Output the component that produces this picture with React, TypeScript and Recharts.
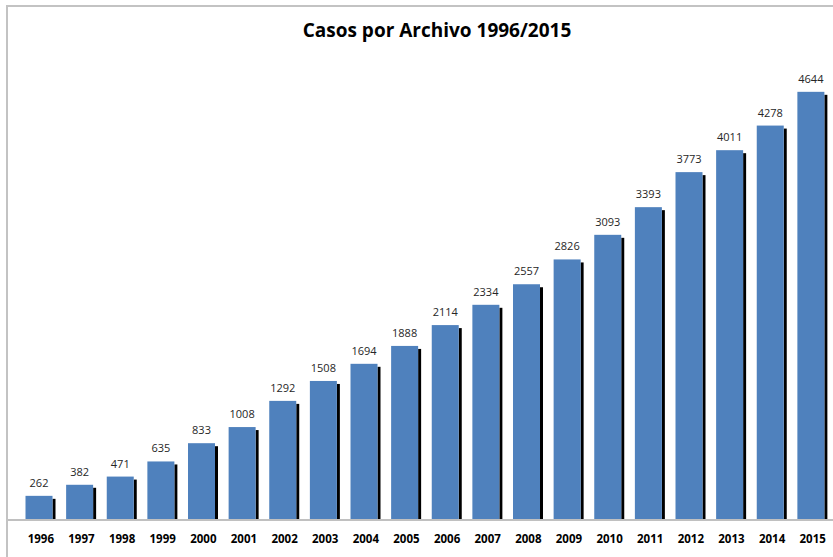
import { Bar, BarChart, LabelList, XAxis, YAxis } from "recharts";

const years = [
  "1996", "1997", "1998", "1999", "2000", "2001", "2002", "2003", "2004", "2005",
  "2006", "2007", "2008", "2009", "2010", "2011", "2012", "2013", "2014", "2015",
];
const casos = [
  262, 382, 471, 635, 833, 1008, 1292, 1508, 1694, 1888,
  2114, 2334, 2557, 2826, 3093, 3393, 3773, 4011, 4278, 4644,
];

const FONT = "'Open Sans', 'Noto Sans', sans-serif";
const SHADOW = 3;

function ShadowBar(props: any) {
  const { x, y, width, height, fill } = props;
  if (!height || height <= 0) return null;
  const w = width - SHADOW;
  return (
    <g>
      <rect x={x + w} y={y + 3} width={SHADOW} height={height - 3} fill="#000" />
      <rect x={x} y={y} width={w} height={height} fill={fill} />
    </g>
  );
}

function ValueLabel(props: any) {
  const { x, y, width, value } = props;
  return (
    <text
      x={x + (width - SHADOW) / 2}
      y={y - 9}
      textAnchor="middle"
      fontFamily={FONT}
      fontSize={11}
      fill="#262626"
    >
      {value}
    </text>
  );
}

export default function App() {
  const rows = years.map((year, i) => ({ year, casos: casos[i] }));
  return (
    <div style={{ position: "absolute", left: 0, top: 0, width: 833, height: 557, background: "#fff" }}>
      <div
        style={{
          position: "absolute",
          left: 6,
          top: 5,
          width: 827,
          height: 552,
          borderTop: "2px solid #c3c3c3",
          borderLeft: "2px solid #c3c3c3",
          boxSizing: "border-box",
        }}
      />
      <div
        style={{
          position: "absolute",
          left: 0,
          top: 17,
          width: 874,
          textAlign: "center",
          fontFamily: FONT,
          fontWeight: 700,
          fontSize: 19,
          color: "#000",
        }}
      >
        Casos por Archivo 1996/2015
      </div>
      <BarChart
        width={833}
        height={557}
        data={rows}
        margin={{ top: 59, right: 0, bottom: 7, left: 8 }}
        barCategoryGap={0}
        style={{ position: "absolute", left: 0, top: 0 }}
      >
        <XAxis
          dataKey="year"
          height={30}
          padding={{ left: 12.5, right: 0 }}
          axisLine={{ stroke: "#c0c0c0", strokeWidth: 2 }}
          tickLine={false}
          interval={0}
          tick={{ fontFamily: FONT, fontSize: 11.5, fontWeight: 700, fill: "#000" }}
          tickMargin={9}
        />
        <YAxis hide domain={[0, 5000]} />
        <Bar
          dataKey="casos"
          fill="#4f81bd"
          barSize={30}
          shape={ShadowBar}
          isAnimationActive={false}
        >
          <LabelList dataKey="casos" content={ValueLabel} />
        </Bar>
      </BarChart>
    </div>
  );
}
